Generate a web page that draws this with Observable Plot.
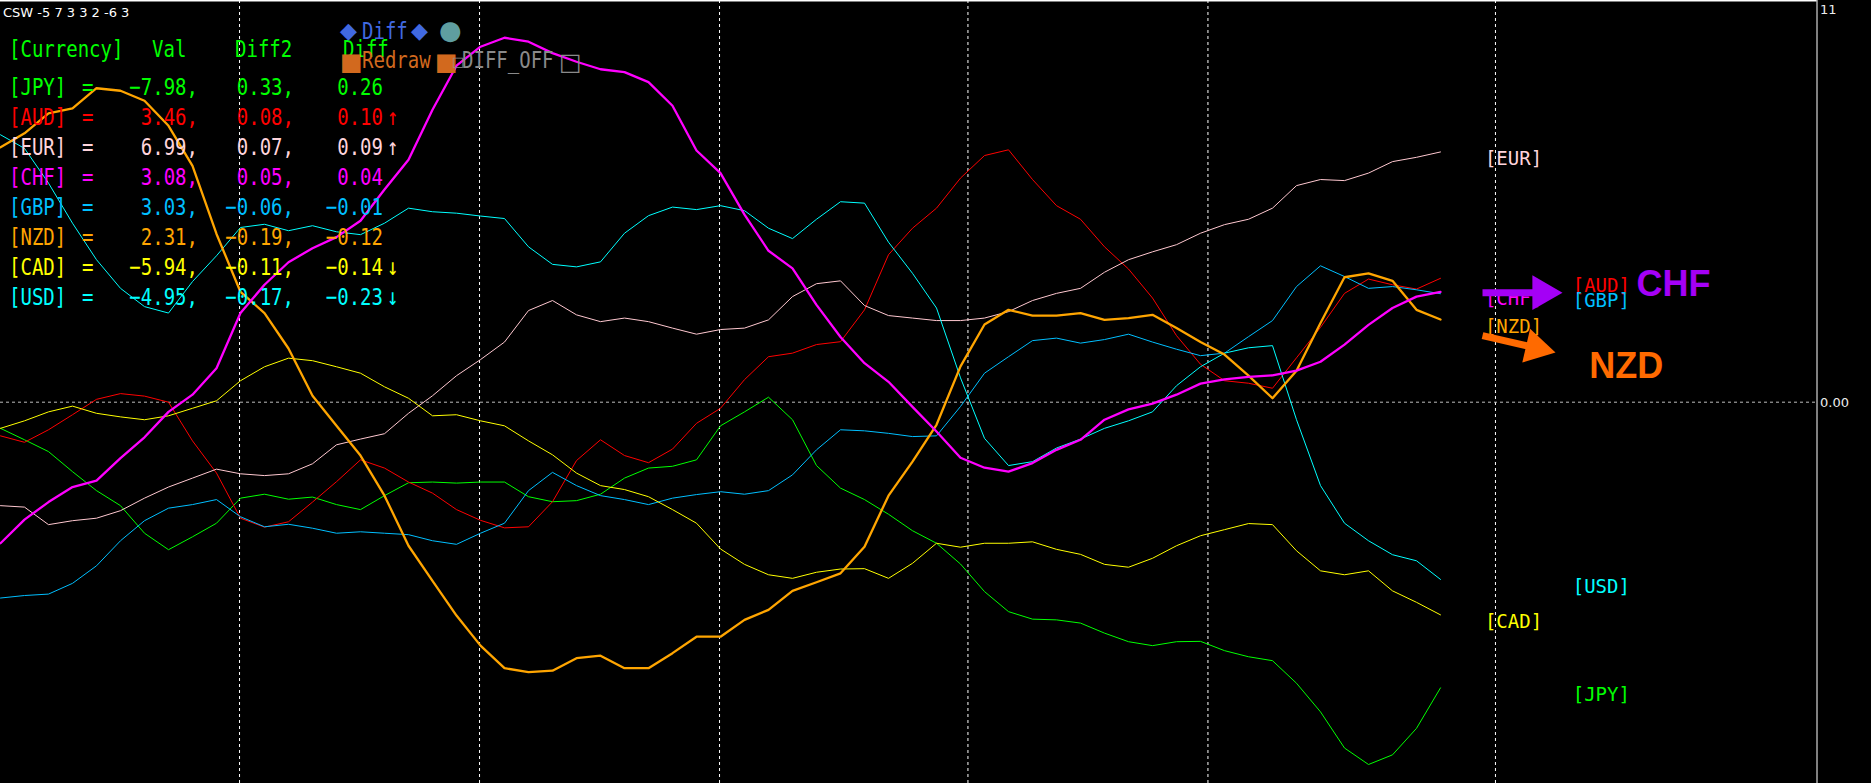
<!DOCTYPE html>
<html><head><meta charset="utf-8">
<script src="https://cdn.jsdelivr.net/npm/d3@7"></script>
<script src="https://cdn.jsdelivr.net/npm/@observablehq/plot@0.6"></script>
<style>
html,body{margin:0;padding:0;background:#000;}
#wrap{position:relative;width:1871px;height:783px;overflow:hidden;background:#000;}
#chart svg{display:block}
.ov{position:absolute;white-space:pre;font-family:"DejaVu Sans Mono",monospace;font-size:19px;line-height:20px;transform:scaleY(1.25);transform-origin:0 0;}
.sym{position:absolute;white-space:pre;font-family:"DejaVu Sans",sans-serif;line-height:1;}
</style></head><body>
<div id="wrap"><div id="chart"></div><div id="overlay"></div></div>
<script>
// ---------- data ----------
const currencies = ["JPY","AUD","EUR","CHF","GBP","NZD","CAD","USD"];
const jpy = [-0.73,-1.05,-1.38,-1.94,-2.47,-2.89,-3.66,-4.12,-3.76,-3.38,-2.68,-2.57,-2.71,-2.65,-2.86,-3.00,-2.61,-2.25,-2.23,-2.26,-2.23,-2.23,-2.64,-2.78,-2.75,-2.57,-2.12,-1.84,-1.79,-1.61,-0.66,-0.27,0.14,-0.49,-1.77,-2.40,-2.72,-3.13,-3.59,-3.94,-4.52,-5.29,-5.85,-6.06,-6.08,-6.17,-6.45,-6.69,-6.80,-6.69,-6.68,-6.94,-7.11,-7.22,-7.85,-8.65,-9.66,-10.12,-9.85,-9.11,-7.98];
const aud = [-0.94,-1.12,-0.77,-0.35,0.08,0.24,0.17,0.00,-1.08,-1.98,-3.24,-3.49,-3.34,-2.79,-2.22,-1.61,-1.84,-2.23,-2.54,-3.00,-3.30,-3.51,-3.48,-2.78,-1.63,-1.05,-1.49,-1.69,-1.31,-0.59,-0.17,0.63,1.27,1.37,1.61,1.69,2.58,4.12,4.86,5.42,6.26,6.89,7.05,6.22,5.49,5.11,4.34,3.72,2.91,1.86,1.06,0.60,0.53,0.39,1.24,2.09,3.04,3.44,3.28,3.16,3.46];
const eur = [-2.89,-2.93,-3.42,-3.31,-3.24,-3.03,-2.68,-2.37,-2.12,-1.87,-2.00,-2.05,-2.00,-1.72,-1.19,-1.03,-0.88,-0.31,0.18,0.74,1.19,1.68,2.56,2.84,2.44,2.25,2.35,2.25,2.07,1.90,2.03,2.07,2.30,2.95,3.31,3.39,2.70,2.42,2.35,2.28,2.28,2.35,2.53,2.84,3.04,3.18,3.63,3.98,4.20,4.40,4.72,4.96,5.11,5.42,6.05,6.22,6.19,6.40,6.72,6.84,6.99];
const chf = [-3.94,-3.28,-2.79,-2.37,-2.19,-1.56,-0.98,-0.27,0.21,0.95,2.49,3.28,3.91,4.30,4.61,5.07,5.94,6.77,8.17,9.40,9.93,10.18,10.07,9.75,9.51,9.30,9.22,8.94,8.28,7.03,6.40,5.24,4.23,3.74,2.72,1.82,1.09,0.57,-0.13,-0.82,-1.55,-1.83,-1.94,-1.70,-1.33,-1.05,-0.49,-0.20,-0.04,0.21,0.52,0.64,0.71,0.75,0.88,1.13,1.61,2.16,2.63,2.95,3.08];
const gbp = [-5.47,-5.40,-5.36,-5.06,-4.57,-3.87,-3.31,-2.96,-2.86,-2.72,-3.20,-3.48,-3.41,-3.52,-3.66,-3.62,-3.66,-3.70,-3.87,-3.97,-3.66,-3.38,-2.47,-1.96,-2.33,-2.61,-2.72,-2.86,-2.68,-2.58,-2.50,-2.57,-2.47,-2.03,-1.33,-0.77,-0.80,-0.87,-0.96,-0.94,-0.12,0.81,1.27,1.72,1.79,1.65,1.75,1.90,1.68,1.48,1.30,1.37,1.83,2.28,3.23,3.81,3.51,3.18,3.23,3.14,3.03];
const nzd = [7.12,7.51,8.07,8.21,8.77,8.70,8.42,7.72,6.60,4.70,3.08,2.49,1.50,0.18,-0.66,-1.49,-2.61,-4.01,-4.99,-5.96,-6.80,-7.43,-7.54,-7.50,-7.15,-7.08,-7.43,-7.43,-7.01,-6.55,-6.55,-6.08,-5.80,-5.27,-5.03,-4.78,-4.04,-2.61,-1.66,-0.63,1.00,2.17,2.58,2.42,2.42,2.49,2.30,2.35,2.44,2.07,1.68,1.33,0.74,0.11,0.88,2.21,3.49,3.60,3.39,2.58,2.31];
const cad = [-0.73,-0.52,-0.27,-0.11,-0.31,-0.41,-0.49,-0.38,-0.17,0.04,0.60,0.99,1.23,1.16,0.99,0.81,0.43,0.11,-0.38,-0.35,-0.52,-0.66,-1.08,-1.47,-1.98,-2.33,-2.44,-2.64,-3.00,-3.38,-4.10,-4.53,-4.82,-4.92,-4.75,-4.66,-4.65,-4.92,-4.50,-3.94,-4.05,-3.94,-3.94,-3.90,-4.11,-4.25,-4.53,-4.61,-4.36,-4.01,-3.73,-3.56,-3.39,-3.42,-4.15,-4.71,-4.82,-4.71,-5.27,-5.59,-5.94];
const usd = [7.47,7.09,6.12,5.00,3.98,3.18,2.67,2.49,3.37,4.09,4.88,4.97,4.79,4.93,4.76,4.68,5.00,5.42,5.32,5.28,5.20,5.13,4.34,3.85,3.78,3.92,4.72,5.21,5.45,5.38,5.49,5.35,4.86,4.57,5.11,5.60,5.56,4.47,3.60,2.63,0.68,-1.01,-1.77,-1.66,-1.28,-1.03,-0.73,-0.52,-0.27,0.46,0.99,1.37,1.52,1.58,-0.49,-2.33,-3.38,-3.87,-4.26,-4.43,-4.95];

// table values
const tableVal   = [-7.98, 3.46, 6.99, 3.08, 3.03, 2.31, -5.94, -4.95];
const tableDiff2 = [0.33, 0.08, 0.07, 0.05, -0.06, -0.19, -0.11, -0.17];
const tableDiff  = [0.26, 0.10, 0.09, 0.04, -0.01, -0.12, -0.14, -0.23];
const tableArrow = ["", "↑", "↑", "", "", "", "↓", "↓"];
const headerTexts = ["[Currency]", "Val", "Diff2", "Diff"];
const titleText = "CSW -5 7 3 3 2 -6 3";

// axis / grid
const yTickValues = [11, 0];
const yTickLabels = ["11", "0.00"];
const gridTimes = [9.96, 19.96, 29.96, 40.31, 50.31, 62.29];

// annotations
const annotNames = ["CHF", "NZD"];
const annotFrom = [[61.75, 3.06], [61.75, 1.86]];
const annotTip  = [[65.08, 3.06], [64.79, 1.39]];
const annotText = [[68.17, 3.28], [66.2, 0.99]];

// ---------- styles ----------
const colors = ["#00FF00","#FF0000","#FFC8D0","#FF00FF","#00BFFF","#FFA500","#FFFF00","#00FFFF"];
const textColors = ["#00FF00","#FF0000","#FFD4DC","#FF00FF","#00BFFF","#FFA500","#FFFF00","#00FFFF"];
const thick = ["CHF","NZD"];
const labelSlot = [1,1,0,0,1,0,0,1];
const annotColors = ["#A400F6", "#FF6A00"];

const series = [jpy, aud, eur, chf, gbp, nzd, cad, usd];
const rows = currencies.flatMap((c, k) => series[k].map((v, i) => ({cur: c, k, i, v})));
const lastIdx = jpy.length - 1;

const W = 1871, H = 783;
const plotRight = 1816.5;
const pxPerX = 24;
const xEnd = plotRight / pxPerX;
const zeroPx = 401.7, pxPerY = 35.8;
const yHi = zeroPx / pxPerY, yLo = -(H - zeroPx) / pxPerY;

const labels = currencies.map((c, k) => ({
  text: "[" + c + "]", k, v: tableVal[k], x: lastIdx + 1.85 + labelSlot[k] * 3.66
}));

// arrow heads: center 20px behind tip along direction (pixel space)
const heads = annotNames.map((n, j) => {
  const [x1, y1] = annotFrom[j], [x2, y2] = annotTip[j];
  const dxp = (x2 - x1) * pxPerX, dyp = -(y2 - y1) * pxPerY;
  const len = Math.hypot(dxp, dyp);
  const ux = dxp / len, uy = dyp / len;
  return {
    j, x1, y1,
    cx: x2 - ux * 20 / pxPerX, cy: y2 + uy * 20 / pxPerY,
    angle: 90 + Math.atan2(uy, ux) * 180 / Math.PI
  };
});

const lineMarks = [];
const order = ["JPY","AUD","EUR","GBP","CAD","USD","NZD","CHF"];
for (const c of order) {
  const k = currencies.indexOf(c);
  lineMarks.push(Plot.line(rows.filter(d => d.cur === c), {
    x: "i", y: "v", stroke: colors[k], strokeWidth: thick.includes(c) ? 2.3 : 1
  }));
}

const chart = Plot.plot({
  width: W, height: H,
  marginLeft: 0, marginRight: W - plotRight, marginTop: 0, marginBottom: 0,
  style: {background: "#000", color: "#e6e6e6", fontFamily: "DejaVu Sans", overflow: "visible"},
  x: {domain: [0, xEnd], axis: null},
  y: {domain: [yLo, yHi], axis: null},
  marks: [
    Plot.ruleX(gridTimes, {stroke: "#ffffff", strokeDasharray: "3,3", strokeWidth: 1}),
    Plot.ruleY([0], {stroke: "#bdbdbd", strokeDasharray: "3,3", strokeWidth: 1}),
    ...lineMarks,
    Plot.text(labels, {x: "x", y: "v", text: "text", fill: d => textColors[d.k],
      textAnchor: "start", lineAnchor: "top", fontFamily: "DejaVu Sans Mono", fontSize: 19}),
    Plot.link(heads, {x1: "x1", y1: "y1", x2: "cx", y2: "cy", stroke: d => annotColors[d.j], strokeWidth: 7}),
    Plot.dot(heads, {x: "cx", y: "cy", symbol: "triangle", r: 12.9, rotate: "angle",
      fill: d => annotColors[d.j], stroke: "none"}),
    Plot.text(annotNames.map((n, j) => ({n, j, x: annotText[j][0], y: annotText[j][1]})), {
      x: "x", y: "y", text: "n", fill: d => annotColors[d.j], textAnchor: "start",
      fontFamily: "Liberation Sans", fontWeight: "bold", fontSize: 36}),
    Plot.ruleY([yHi], {stroke: "#ffffff", strokeWidth: 2}),
    Plot.ruleX([xEnd], {stroke: "#ffffff", strokeWidth: 1}),
    Plot.axisY(yTickValues, {anchor: "right", tickSize: 0, tickPadding: 3, label: null,
      tickFormat: d => yTickLabels[yTickValues.indexOf(d)], fill: "#ececec",
      fontSize: 13, fontFamily: "DejaVu Sans", dy: 1})
  ]
});
document.getElementById("chart").appendChild(chart);

// ---------- overlay text (table + widgets) ----------
const ov = document.getElementById("overlay");
function add(cls, text, css) {
  const s = document.createElement("div");
  s.className = cls; s.textContent = text;
  Object.assign(s.style, css);
  ov.appendChild(s);
  return s;
}
const fmt = v => v.toFixed(2).replace("-", "−");
add("sym", titleText, {left: "3px", top: "6px", fontSize: "13px", color: "#ffffff", fontFamily: "DejaVu Sans"});

const headTop = 36;
const lime = "#00FF00";
add("ov", headerTexts[0], {left: "9px", top: headTop + "px", color: lime});
add("ov", headerTexts[1], {left: "152px", top: headTop + "px", color: lime});
add("ov", headerTexts[2], {left: "235px", top: headTop + "px", color: lime});
add("ov", headerTexts[3], {left: "343px", top: headTop + "px", color: lime});

currencies.forEach((c, k) => {
  const top = (73.5 + 30 * k) + "px";
  const col = textColors[k];
  add("ov", "[" + c + "]", {left: "9px", top, color: col});
  add("ov", "=", {left: "82px", top, color: col});
  add("ov", fmt(tableVal[k]) + ",", {left: "0px", width: "198px", textAlign: "right", top, color: col});
  add("ov", fmt(tableDiff2[k]) + ",", {left: "0px", width: "294px", textAlign: "right", top, color: col});
  add("ov", fmt(tableDiff[k]), {left: "0px", width: "383px", textAlign: "right", top, color: col});
  if (tableArrow[k]) add("ov", tableArrow[k], {left: "387px", top, color: col});
});

// widget buttons
const royal = "#4169E1", choc = "#D2691E", grey = "#8a8a8a";
add("sym", "◆", {left: "340px", top: "20px", fontSize: "22px", color: royal});
add("ov", "Diff", {left: "362px", top: "18px", color: royal});
add("sym", "◆", {left: "411px", top: "20px", fontSize: "22px", color: royal});
add("sym", "●", {left: "439px", top: "17px", fontSize: "26px", color: "#5F9EA0"});
add("sym", "■", {left: "340px", top: "50px", fontSize: "24px", color: choc});
add("ov", "Redraw", {left: "362px", top: "47px", color: choc});
add("sym", "■", {left: "435px", top: "50px", fontSize: "24px", color: choc});
add("sym", "□", {left: "452px", top: "55px", fontSize: "13px", color: grey});
add("ov", "DIFF_OFF", {left: "462px", top: "47px", color: grey});
add("sym", "□", {left: "559px", top: "50px", fontSize: "24px", color: grey});
</script></body></html>
